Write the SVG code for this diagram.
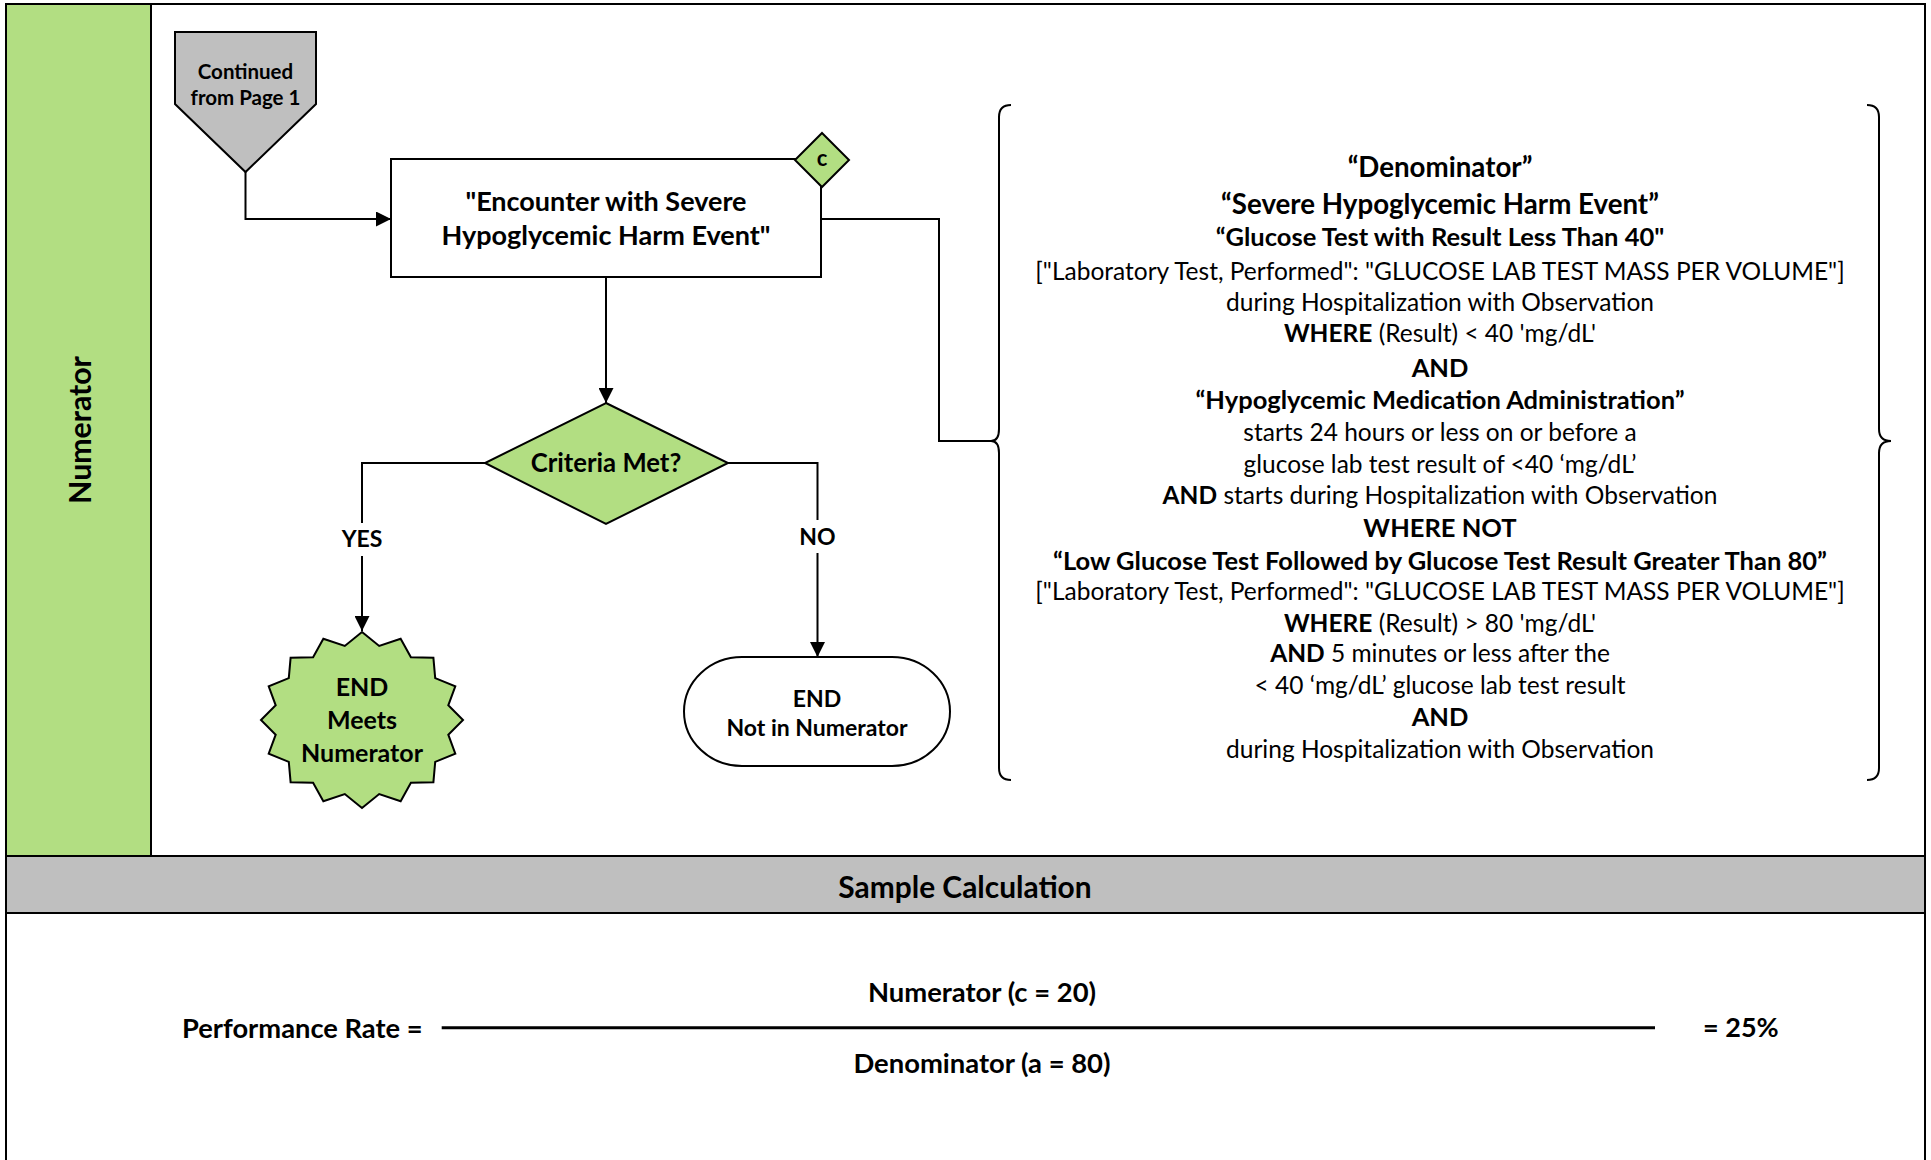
<svg xmlns="http://www.w3.org/2000/svg" width="1931" height="1160" viewBox="0 0 1931 1160">
<defs>
<style>
text{font-family:Lato,"Liberation Sans",sans-serif;fill:#000}
.b{font-weight:700}
.blk{font-size:24.5px;text-anchor:middle}
.bb{font-size:25.5px}
.big{font-size:27.7px}
.ln{fill:none;stroke:#000;stroke-width:2}
.shape{stroke:#000;stroke-width:2}
.green{fill:#B2DE82}
.gray{fill:#BFBFBF}
</style>
<marker id="arr" viewBox="0 0 10 10" refX="10" refY="5" markerWidth="15" markerHeight="15" markerUnits="userSpaceOnUse" orient="auto">
<path d="M0,0 L10,5 L0,10 z" fill="#000"/>
</marker>
</defs>
<rect x="0" y="0" width="1931" height="1160" fill="#fff"/>
<g id="frame">
<rect x="6" y="4" width="1919" height="1162" fill="#fff" class="shape"/>
<rect x="6" y="4" width="145" height="852" class="shape green"/>
<rect x="6" y="856" width="1919" height="57" class="shape gray"/>
<text class="b" font-size="30.3" text-anchor="middle" transform="translate(90.5,430) rotate(-90)">Numerator</text>
<text class="b" font-size="29.9" text-anchor="middle" x="965" y="897.5">Sample Calculation</text>
</g>
<g id="connectors">
<path class="ln" d="M245.5,172 V219 H391" marker-end="url(#arr)"/>
<path class="ln" d="M606,277 V403" marker-end="url(#arr)"/>
<path class="ln" d="M485,463 H362 V523 M362,556 V631" marker-end="url(#arr)"/>
<path class="ln" d="M728,463 H817.5 V520 M817.5,553 V657" marker-end="url(#arr)"/>
<path class="ln" d="M821,219 H939 V441 H992"/>
<text class="b" font-size="23" text-anchor="middle" x="362" y="547">YES</text>
<text class="b" font-size="23" text-anchor="middle" x="817.5" y="545">NO</text>
</g>
<g id="continued">
<polygon class="shape gray" points="175,32 316,32 316,104 245.5,172 175,104"/>
<text class="b" font-size="20.5" text-anchor="middle" x="245.5" y="79.4">Continued</text>
<text class="b" font-size="20.5" text-anchor="middle" x="245.5" y="105.4">from Page 1</text>
</g>
<g id="encounter">
<rect x="391" y="159" width="430" height="118" fill="#fff" class="shape"/>
<text class="b" font-size="27" text-anchor="middle" x="606" y="211.2">"Encounter with Severe</text>
<text class="b" font-size="27" text-anchor="middle" x="606" y="244.7">Hypoglycemic Harm Event"</text>
</g>
<g id="c-marker">
<polygon class="shape green" points="822,133 849,160 822,187 795,160"/>
<text class="b" font-size="22" text-anchor="middle" x="822" y="166">c</text>
</g>
<g id="criteria">
<polygon class="shape green" points="606,403 728,463 606,524 485,463"/>
<text class="b" font-size="25.7" text-anchor="middle" x="606" y="472">Criteria Met?</text>
</g>
<g id="end-meets">
<polygon class="shape green" points="362,632 379.2,645.95 400.65,638.7 410.9,657.2 433.4,657.8 435.2,678.1 455.3,686.3 448.3,705.3 463,720 448.3,734.7 455.3,753.7 435.2,761.9 433.4,782.2 410.9,782.8 400.65,801.3 379.2,794.05 362,808 344.8,794.05 323.35,801.3 313.1,782.8 290.6,782.2 288.8,761.9 268.7,753.7 275.7,734.7 261,720 275.7,705.3 268.7,686.3 288.8,678.1 290.6,657.8 313.1,657.2 323.35,638.7 344.8,645.95"/>
<text class="b" font-size="25" text-anchor="middle" x="362" y="696">END</text>
<text class="b" font-size="25" text-anchor="middle" x="362" y="729">Meets</text>
<text class="b" font-size="25" text-anchor="middle" x="362" y="762">Numerator</text>
</g>
<g id="end-not">
<rect x="684" y="657" width="266" height="109" rx="58" ry="54.5" fill="#fff" class="shape"/>
<text class="b" font-size="23" text-anchor="middle" x="817" y="706.6">END</text>
<text class="b" font-size="23" text-anchor="middle" x="817" y="735.6">Not in Numerator</text>
</g>
<g id="criteria-text">
<path class="ln" d="M1011,105 Q999,105 999,117 L999,429 Q999,441 991,441 Q999,441 999,453 L999,768 Q999,780 1011,780"/>
<path class="ln" d="M1867,105 Q1879,105 1879,117 L1879,429 Q1879,441 1891,441 Q1879,441 1879,453 L1879,768 Q1879,780 1867,780"/>
<text class="blk b big" x="1440" y="176.5">“Denominator”</text>
<text class="blk b big" x="1440" y="213.5">“Severe Hypoglycemic Harm Event”</text>
<text class="blk b bb" x="1440" y="246.2">“Glucose Test with Result Less Than 40"</text>
<text class="blk" x="1440" y="279.8">["Laboratory Test, Performed": "GLUCOSE LAB TEST MASS PER VOLUME"]</text>
<text class="blk" x="1440" y="310.8">during Hospitalization with Observation</text>
<text class="blk" x="1440" y="341.8"><tspan class="b">WHERE</tspan> (Result) &lt; 40 'mg/dL'</text>
<text class="blk b bb" x="1440" y="376.7">AND</text>
<text class="blk b bb" x="1440" y="408.7">“Hypoglycemic Medication Administration”</text>
<text class="blk" x="1440" y="441.3">starts 24 hours or less on or before a</text>
<text class="blk" x="1440" y="472.8">glucose lab test result of &lt;40 ‘mg/dL’</text>
<text class="blk" x="1440" y="504.3"><tspan class="b">AND</tspan> starts during Hospitalization with Observation</text>
<text class="blk b bb" x="1440" y="536.7">WHERE NOT</text>
<text class="blk b bb" x="1440" y="570.2">“Low Glucose Test Followed by Glucose Test Result Greater Than 80”</text>
<text class="blk" x="1440" y="600.3">["Laboratory Test, Performed": "GLUCOSE LAB TEST MASS PER VOLUME"]</text>
<text class="blk" x="1440" y="631.8"><tspan class="b">WHERE</tspan> (Result) &gt; 80 'mg/dL'</text>
<text class="blk" x="1440" y="661.8"><tspan class="b">AND</tspan> 5 minutes or less after the</text>
<text class="blk" x="1440" y="693.8">&lt; 40 ‘mg/dL’ glucose lab test result</text>
<text class="blk b bb" x="1440" y="726.2">AND</text>
<text class="blk" x="1440" y="758.3">during Hospitalization with Observation</text>
</g>
<g id="calculation">
<text class="b" font-size="27.3" x="182" y="1037.5">Performance Rate =</text>
<path d="M441.7,1027.7 H1655" stroke="#000" stroke-width="3"/>
<text class="b" font-size="27" x="1703" y="1037">= 25%</text>
<text class="b" font-size="27.4" text-anchor="middle" x="982" y="1001.7">Numerator (c = 20)</text>
<text class="b" font-size="27.4" text-anchor="middle" x="982" y="1072.7">Denominator (a = 80)</text>
</g>
</svg>
